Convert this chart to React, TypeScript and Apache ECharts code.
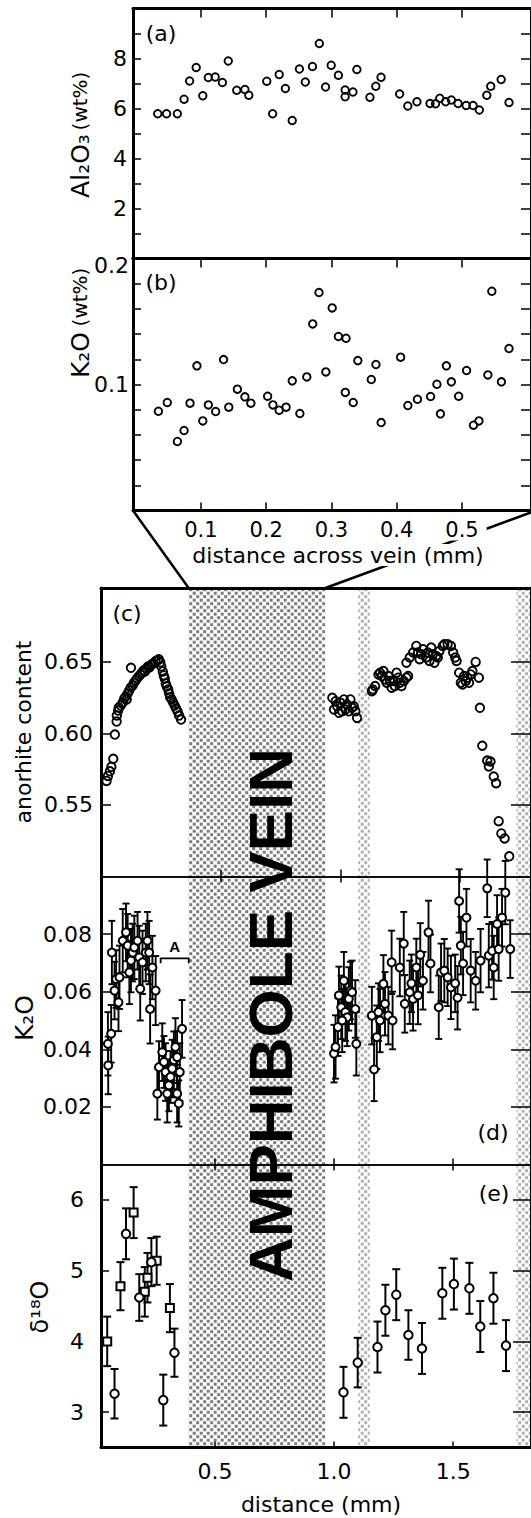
import React, { useEffect, useRef } from "react";
import * as echarts from "echarts";

const FONT = "DejaVu Sans";

// ---------- (a) Al2O3 (wt%) across vein ----------
const alX = [0.034,0.0475,0.064,0.0743,0.0828,0.0929,0.103,0.1115,0.122,0.133,0.142,0.155,0.1675,0.1735,0.201,0.210,0.220,0.2295,0.240,0.251,0.260,0.271,0.2815,0.291,0.2997,0.3107,0.321,0.321,0.333,0.339,0.359,0.368,0.376,0.4045,0.417,0.431,0.451,0.4595,0.466,0.475,0.4837,0.494,0.5064,0.517,0.5266,0.538,0.544,0.560,0.572];
const alY = [5.79,5.79,5.79,6.37,7.10,7.64,6.51,7.24,7.26,7.04,7.90,6.73,6.76,6.53,7.09,5.79,7.36,6.80,5.52,7.58,7.06,7.68,8.60,6.86,7.73,7.33,6.74,6.47,6.66,7.56,6.45,6.89,7.25,6.58,6.10,6.27,6.20,6.19,6.41,6.27,6.34,6.20,6.12,6.12,5.94,6.53,6.89,7.16,6.24];

// ---------- (b) K2O (wt%) across vein ----------
const kVeinX = [0.035,0.0486,0.0641,0.0743,0.0834,0.094,0.103,0.1115,0.1227,0.1348,0.1428,0.156,0.1675,0.1766,0.2023,0.2104,0.22,0.2306,0.240,0.2517,0.2623,0.2714,0.281,0.2915,0.3012,0.3107,0.3224,0.3213,0.3334,0.3405,0.3611,0.3682,0.3762,0.406,0.4171,0.4318,0.4519,0.4616,0.467,0.4761,0.4837,0.4949,0.507,0.5176,0.526,0.5396,0.5457,0.5604,0.572];
const kVeinY = [0.0788,0.0857,0.0548,0.0635,0.0852,0.1148,0.0711,0.0838,0.0786,0.1198,0.0820,0.0963,0.0902,0.0852,0.0907,0.0838,0.0796,0.0820,0.1029,0.0770,0.1060,0.1481,0.1730,0.1100,0.1608,0.1381,0.1367,0.0937,0.0857,0.1190,0.1040,0.1159,0.0698,0.1217,0.0833,0.0883,0.0905,0.1002,0.0767,0.1148,0.1021,0.0907,0.1111,0.0677,0.0711,0.1076,0.1740,0.1021,0.1286];

// ---------- (c) anorthite content ----------
const anX = [
  0.0187,0.0245,0.0328,0.039,0.0469,0.0535,0.061,0.0676,0.0618,0.0701,0.0784,0.0867,0.093,0.0992,0.1033,0.1075,0.1137,0.1212,0.12,0.1282,0.1344,0.1407,0.1469,0.1531,0.1614,0.1676,0.1739,0.1801,0.1863,0.1925,0.1988,0.207,0.2154,0.2237,0.232,0.2382,0.2444,0.2485,0.2548,0.2589,0.2631,0.2672,0.2714,0.2776,0.2817,0.2859,0.2921,0.2983,0.3046,0.3108,0.317,0.3232,0.3315,
  0.9664,0.9801,0.9734,0.9871,1.0008,1.0079,1.0149,1.0286,1.0423,1.0494,1.0357,1.0564,1.0631,1.0701,0.9942,1.0216,
  1.1324,1.1461,1.1602,1.1668,1.1809,1.1876,1.1946,1.2017,1.2154,1.2224,1.2361,1.2432,1.2498,1.2568,1.2664,1.2776,1.2846,1.1365,1.1739,1.2083,1.2290,
  1.2776,1.2913,1.3054,1.3191,1.3261,1.3398,1.3469,1.3606,1.3676,1.3813,1.3884,1.3950,1.4021,1.4158,1.4299,1.4365,1.4506,1.4643,1.4739,1.4822,1.4880,1.3328,1.3743,1.4091,
  1.4988,1.5058,1.5129,1.5266,1.5336,1.5473,1.5544,1.5681,1.5817,1.5195,1.5402,
  1.5859,1.5959,1.6166,1.6303,1.6232,1.6440,1.6539,1.6647,1.6759,1.6896,1.7091
];
const anY = [
  0.5668,0.5703,0.5735,0.5767,0.5823,0.5992,0.6083,0.6160,0.6125,0.6181,0.6195,0.6216,0.6245,0.6259,0.6238,0.6280,0.6301,0.6459,0.6322,0.6336,0.6357,0.6371,0.6385,0.6399,0.6413,0.6427,0.6441,0.6434,0.6455,0.6469,0.6462,0.6483,0.6490,0.6504,0.6511,0.6518,0.6497,0.6469,0.6434,0.6406,0.6385,0.6350,0.6329,0.6308,0.6280,0.6252,0.6238,0.6216,0.6195,0.6174,0.6153,0.6125,0.6097,
  0.6249,0.6226,0.6167,0.6190,0.6214,0.6155,0.6238,0.6202,0.6238,0.6179,0.6155,0.6190,0.6155,0.6109,0.6144,0.6167,
  0.6296,0.6331,0.6413,0.6425,0.6436,0.6378,0.6355,0.6401,0.6320,0.6366,0.6425,0.6390,0.6355,0.6331,0.6366,0.6390,0.6401,0.6308,0.6401,0.6366,0.6331,
  0.6495,0.6531,0.6566,0.6612,0.6566,0.6554,0.6589,0.6531,0.6566,0.6601,0.6554,0.6495,0.6542,0.6577,0.6612,0.6624,0.6624,0.6612,0.6566,0.6531,0.6507,0.6519,0.6507,0.6531,
  0.6425,0.6355,0.6343,0.6366,0.6390,0.6413,0.6436,0.6500,0.6390,0.6401,0.6355,
  0.6179,0.5914,0.5811,0.5804,0.5769,0.5699,0.5652,0.5387,0.5301,0.5266,0.5141
];

// ---------- (d) K2O with error bars ----------
const kX = [
  0.0506,0.0519,0.0643,0.0672,0.0784,0.0851,0.0950,0.0992,0.1129,0.1266,0.1336,0.1407,0.1473,0.1544,0.1614,0.1751,0.1822,0.1863,0.1959,0.2095,0.2166,0.2237,0.2278,0.2373,0.2510,
  0.2581,0.2651,0.2788,0.2859,0.2925,0.2996,0.3066,0.3133,0.3203,0.3274,0.3340,0.3411,0.3481,0.3523,0.3618,0.3411,
  0.9996,1.0062,1.0162,1.0203,1.0299,1.0411,1.0477,1.0618,1.0685,1.0755,1.0892,1.0934,1.0548,1.0340,
  1.1680,1.1585,1.1793,1.1863,1.1929,1.2071,1.2137,1.2278,1.2456,1.2415,1.2759,1.2925,
  1.2967,1.3245,1.3315,1.3523,1.3618,1.3730,1.3963,1.4046,1.3174,1.3452,
  1.4394,1.4490,1.4627,1.4768,1.4905,1.5083,1.5183,1.5249,1.5320,1.5415,1.5556,
  1.5734,1.5942,1.6149,1.6427,1.6494,1.6635,1.6701,1.6842,1.6909,1.7050,1.7187,1.7394
];
const kY = [
  0.0419,0.0344,0.0454,0.0736,0.0604,0.0644,0.0563,0.0650,0.0777,0.0806,0.0760,0.0667,0.0708,0.0736,0.0754,0.0777,0.0719,0.0610,0.0702,0.0736,0.0777,0.0736,0.0540,0.0684,0.0604,
  0.0246,0.0338,0.0390,0.0356,0.0321,0.0246,0.0275,0.0304,0.0333,0.0362,0.0408,0.0373,0.0212,0.0321,0.0471,0.0246,
  0.0385,0.0408,0.0477,0.0587,0.0546,0.0638,0.0529,0.0575,0.0604,0.0598,0.0540,0.0419,0.0511,0.0500,
  0.0330,0.0517,0.0442,0.0529,0.0500,0.0627,0.0558,0.0517,0.0500,0.0702,0.0684,0.0767,
  0.0558,0.0629,0.0575,0.0587,0.0728,0.0638,0.0806,0.0698,0.0598,0.0684,
  0.0546,0.0667,0.0673,0.0650,0.0615,0.0629,0.0579,0.0915,0.0760,0.0698,0.0857,
  0.0673,0.0638,0.0708,0.0959,0.0725,0.0742,0.0684,0.0835,0.0748,0.0857,0.0944,0.0748
];
const kErr = [
  0.011,0.010,0.010,0.011,0.010,0.010,0.010,0.011,0.011,0.010,0.011,0.011,0.011,0.010,0.011,0.010,0.011,0.011,0.011,0.010,0.010,0.011,0.012,0.011,0.012,
  0.009,0.009,0.010,0.009,0.010,0.010,0.009,0.009,0.010,0.010,0.010,0.009,0.008,0.010,0.010,0.010,
  0.010,0.011,0.010,0.010,0.011,0.010,0.010,0.011,0.010,0.011,0.010,0.011,0.010,0.011,
  0.011,0.010,0.011,0.010,0.011,0.010,0.011,0.010,0.010,0.011,0.010,0.011,
  0.010,0.010,0.011,0.010,0.011,0.010,0.011,0.010,0.011,0.010,
  0.011,0.010,0.011,0.010,0.011,0.010,0.011,0.011,0.010,0.011,0.010,
  0.011,0.010,0.011,0.010,0.011,0.010,0.011,0.010,0.011,0.010,0.011,0.010
];

// ---------- (e) delta 18O ----------
const oCircX = [0.0784,0.1266,0.1822,0.2330,0.2830,0.3299,1.0394,1.0992,1.1822,1.2154,1.2610,1.3120,1.3689,1.4544,1.5029,1.5680,1.6137,1.6689,1.7216];
const oCircY = [3.26,5.52,4.62,5.12,3.17,3.84,3.28,3.70,3.92,4.44,4.66,4.09,3.90,4.68,4.81,4.75,4.21,4.61,3.94];
const oCircErr = [0.35,0.36,0.33,0.34,0.36,0.34,0.36,0.35,0.36,0.36,0.36,0.35,0.36,0.36,0.36,0.36,0.36,0.36,0.36];
const oSqX = [0.0477,0.1033,0.1585,0.2054,0.2166,0.2552,0.3108];
const oSqY = [4.00,4.78,5.82,4.70,4.90,5.14,4.47];
const oSqErr = [0.35,0.34,0.36,0.35,0.35,0.34,0.34];

// ---------- axes / annotations ----------
const TOP_X = [-0.0039, 0.6057];
const LOW_X = [0.0216, 1.8266];
const C_X = [-0.0046, 1.8004];
const topTickValues = [0.1, 0.2, 0.3, 0.4, 0.5];
const lowTickValues = [0.5, 1.0, 1.5];
const alTickValues = [1, 2, 3, 4, 5, 6, 7, 8, 9];
const alLabelValues = [2, 4, 6, 8];
const kVeinTickValues = [0.02, 0.04, 0.06, 0.08, 0.1, 0.12, 0.14, 0.16, 0.18];
const kVeinLabelValues = [0.1, 0.2];
const anTickValues = [0.55, 0.6, 0.65];
const kTickValues = [0.02, 0.04, 0.06, 0.08];
const oTickValues = [3, 4, 5, 6];
const veinBand = [0.3896, 0.9635];
const narrowBand = [1.1017, 1.15];
const edgeBand = [1.7656, 1.8266];
const bracketA = [0.272, 0.39, 0.0716, 0.0699, 0.0757]; // x0, x1, y, drop, label y

const GA = { left: 133, top: 8.5, width: 403, height: 250 };
const GB = { left: 133, top: 258.5, width: 403, height: 252 };
const GC = { left: 101, top: 588, width: 435, height: 288.5 };
const GD = { left: 101, top: 876.5, width: 435, height: 288 };
const GE = { left: 101, top: 1164.5, width: 435, height: 283 };

const ax = (gridIndex: number, position: string, min: number, max: number, lineW: number, tick: any = null, label: any = null, extra: any = {}) => ({
  type: "value",
  gridIndex,
  position,
  min,
  max,
  axisLine: { show: true, onZero: false, lineStyle: { color: "#000", width: lineW } },
  splitLine: { show: false },
  axisTick: tick
    ? { show: true, inside: true, length: tick.len, customValues: tick.values, lineStyle: { color: "#000", width: tick.w ?? 1.5 } }
    : { show: false },
  axisLabel: label
    ? { show: true, customValues: label.values, formatter: label.fmt, margin: label.margin, fontSize: label.size ?? 22, fontFamily: FONT, color: "#000", ...(label.extra || {}) }
    : { show: false },
  ...extra,
});

const errRender = (capW: number, lw: number) => (params: any, api: any) => {
  const x = api.value(0), y = api.value(1), e = api.value(2);
  const t = api.coord([x, y + e]);
  const b = api.coord([x, y - e]);
  const st = { stroke: "#000", lineWidth: lw };
  return {
    type: "group",
    children: [
      { type: "line", shape: { x1: t[0], y1: t[1], x2: b[0], y2: b[1] }, style: st },
      { type: "line", shape: { x1: t[0] - capW / 2, y1: t[1], x2: t[0] + capW / 2, y2: t[1] }, style: st },
      { type: "line", shape: { x1: b[0] - capW / 2, y1: b[1], x2: b[0] + capW / 2, y2: b[1] }, style: st },
    ],
  };
};

const tileURL = (c: string) =>
  "data:image/svg+xml;charset=utf-8," +
  encodeURIComponent(
    `<svg xmlns="http://www.w3.org/2000/svg" width="7" height="7" viewBox="0 0 7 7"><rect x="0.2" y="0.2" width="3" height="3" fill="${c}"/><rect x="3.7" y="3.7" width="3" height="3" fill="${c}"/></svg>`
  );
const pattern = (c: string) => ({ image: tileURL(c), repeat: "repeat", imageWidth: 7, imageHeight: 7 });

function buildOption() {
  const hollow = { color: "rgba(0,0,0,0)", borderColor: "#000", borderWidth: 1.9, opacity: 1 };
  const white = { color: "#fff", borderColor: "#000", borderWidth: 2, opacity: 1 };
  return {
    animation: false,
    backgroundColor: "#fff",
    textStyle: { fontFamily: FONT },
    grid: [GA, GB, GC, GD, GE].map((g) => ({ ...g, containLabel: false })),
    xAxis: [
      ax(0, "top", TOP_X[0], TOP_X[1], 3, { len: 9, values: topTickValues }),
      ax(0, "bottom", TOP_X[0], TOP_X[1], 3),
      ax(1, "top", TOP_X[0], TOP_X[1], 3, { len: 9, values: topTickValues }),
      ax(1, "bottom", TOP_X[0], TOP_X[1], 3, { len: 8, values: topTickValues }, {
        values: topTickValues, fmt: (v: number) => v.toFixed(1), margin: 9, size: 21,
        extra: { backgroundColor: "#fff", padding: [0, 8, 0, 8] },
      }, { z: 10 }),
      ax(2, "bottom", C_X[0], C_X[1], 1.5, { len: 7, values: lowTickValues }),
      ax(2, "top", LOW_X[0], LOW_X[1], 3),
      ax(3, "top", C_X[0], C_X[1], 1.5, { len: 6, values: lowTickValues }),
      ax(3, "bottom", LOW_X[0], LOW_X[1], 1.5, { len: 6, values: lowTickValues }),
      ax(4, "top", LOW_X[0], LOW_X[1], 1.5, { len: 6, values: lowTickValues }),
      ax(4, "bottom", LOW_X[0], LOW_X[1], 3, { len: 6, values: lowTickValues }, {
        values: lowTickValues, fmt: (v: number) => v.toFixed(1), margin: 13, size: 22,
      }),
    ],
    yAxis: [
      ax(0, "left", 0, 10, 3, { len: 8, values: alTickValues }, { values: alLabelValues, fmt: (v: number) => String(v), margin: 6, size: 22 }),
      ax(0, "right", 0, 10, 3, { len: 10, values: alTickValues }),
      ax(1, "left", 0, 0.2, 3, { len: 8, values: kVeinTickValues }, {
        values: kVeinLabelValues,
        fmt: (v: number) => (v > 0.15 ? "{lo|0.2}" : v.toFixed(1)),
        margin: 4, size: 22,
        extra: { rich: { lo: { fontSize: 22, fontFamily: FONT, color: "#000", padding: [14, 0, 0, 0] } } },
      }),
      ax(1, "right", 0, 0.2, 3, { len: 10, values: kVeinTickValues }),
      ax(2, "left", 0.5, 0.7017, 3, { len: 10, values: anTickValues }, { values: anTickValues, fmt: (v: number) => v.toFixed(2), margin: 8, size: 22 }),
      ax(2, "right", 0.5, 0.7017, 3, { len: 20, values: anTickValues }),
      ax(3, "left", 0, 0.1, 3, { len: 10, values: kTickValues }, { values: kTickValues, fmt: (v: number) => v.toFixed(2), margin: 9, size: 22 }),
      ax(3, "right", 0, 0.1, 3, { len: 20, values: kTickValues }),
      ax(4, "left", 2.5, 6.5, 3, { len: 8, values: oTickValues }, { values: oTickValues, fmt: (v: number) => String(v), margin: 17, size: 22 }),
      ax(4, "right", 2.5, 6.5, 3, { len: 18, values: oTickValues }),
    ],
    series: [
      { type: "scatter", xAxisIndex: 0, yAxisIndex: 0, silent: true, z: 5, symbol: "circle", symbolSize: 7.5, itemStyle: hollow, data: alX.map((x, i) => [x, alY[i]]) },
      { type: "scatter", xAxisIndex: 3, yAxisIndex: 2, silent: true, z: 5, symbol: "circle", symbolSize: 7.5, itemStyle: hollow, data: kVeinX.map((x, i) => [x, kVeinY[i]]) },
      { type: "scatter", xAxisIndex: 4, yAxisIndex: 4, silent: true, z: 5, symbol: "circle", symbolSize: 8.5, itemStyle: hollow, data: anX.map((x, i) => [x, anY[i]]) },
      { type: "custom", xAxisIndex: 7, yAxisIndex: 6, silent: true, z: 4, renderItem: errRender(7, 1.9), encode: { x: 0, y: 1 }, data: kX.map((x, i) => [x, kY[i], kErr[i]]) },
      { type: "scatter", xAxisIndex: 7, yAxisIndex: 6, silent: true, z: 5, symbol: "circle", symbolSize: 8, itemStyle: white, data: kX.map((x, i) => [x, kY[i]]) },
      { type: "custom", xAxisIndex: 9, yAxisIndex: 8, silent: true, z: 4, renderItem: errRender(8, 2), encode: { x: 0, y: 1 }, data: oCircX.map((x, i) => [x, oCircY[i], oCircErr[i]]).concat(oSqX.map((x, i) => [x, oSqY[i], oSqErr[i]])) },
      { type: "scatter", xAxisIndex: 9, yAxisIndex: 8, silent: true, z: 5, symbol: "rect", symbolSize: 8, itemStyle: white, data: oSqX.map((x, i) => [x, oSqY[i]]) },
      { type: "scatter", xAxisIndex: 9, yAxisIndex: 8, silent: true, z: 6, symbol: "circle", symbolSize: 8.5, itemStyle: white, data: oCircX.map((x, i) => [x, oCircY[i]]) },
    ],
  };
}

const txt = (x: number, y: number, text: string, size: number, extra: any = {}, rot = 0) => ({
  type: "text",
  x,
  y,
  rotation: rot,
  z: 20,
  silent: true,
  style: {
    text,
    fill: "#000",
    font: `${size}px "${FONT}"`,
    textAlign: "center",
    textVerticalAlign: "middle",
    ...extra,
  },
});

function buildGraphic(chart: any) {
  const px = (v: number) => chart.convertToPixel({ xAxisIndex: 9 }, v);
  const bandTop = GC.top;
  const bandBottom = GE.top + GE.height;
  const band = (b: number[], color: string) => ({
    type: "rect",
    z: -5,
    silent: true,
    shape: { x: px(b[0]), y: bandTop, width: px(b[1]) - px(b[0]), height: bandBottom - bandTop },
    style: { fill: pattern(color) },
  });
  const bBottom = GB.top + GB.height;
  const lineSt = { stroke: "#000", lineWidth: 2.5 };
  const cv = (p: number[]) => chart.convertToPixel({ xAxisIndex: 7, yAxisIndex: 6 }, p);
  const p0 = cv([bracketA[0], bracketA[3]]);
  const p1 = cv([bracketA[0], bracketA[2]]);
  const p2 = cv([bracketA[1], bracketA[2]]);
  const p3 = cv([bracketA[1], bracketA[3]]);
  const pl = cv([(bracketA[0] + bracketA[1]) / 2, bracketA[4]]);
  return {
    elements: [
      band(veinBand, "#7c7c7c"),
      band(narrowBand, "#b0b0b0"),
      band(edgeBand, "#b0b0b0"),
      { type: "line", z: -1, silent: true, shape: { x1: GB.left, y1: bBottom, x2: px(veinBand[0]), y2: GC.top }, style: lineSt },
      { type: "line", z: -1, silent: true, shape: { x1: GB.left + GB.width, y1: bBottom, x2: px(veinBand[1]), y2: GC.top }, style: lineSt },
      txt(270, 1015, "AMPHIBOLE VEIN", 62, { font: 'bold 62px "Liberation Sans", Arial, sans-serif' }, Math.PI / 2),
      { type: "polyline", z: 20, silent: true, shape: { points: [p0, p1, p2, p3] }, style: { stroke: "#000", lineWidth: 1.8, fill: null } },
      txt(pl[0], pl[1], "A", 15, { font: 'bold 15px "Liberation Sans", Arial, sans-serif' }),
      txt(161, 33, "(a)", 22),
      txt(161, 282, "(b)", 22),
      txt(127, 613, "(c)", 22),
      txt(493, 1132, "(d)", 22),
      txt(494, 1193, "(e)", 22),
      txt(80, 166, "Al₂O₃", 25, {}, Math.PI / 2),
      txt(80, 101, "(wt%)", 20, {}, Math.PI / 2),
      txt(80, 355, "K₂O", 25, {}, Math.PI / 2),
      txt(80, 297, "(wt%)", 20, {}, Math.PI / 2),
      txt(23, 732, "anorhite content", 22, {}, Math.PI / 2),
      txt(24, 1018, "K₂O", 25, {}, Math.PI / 2),
      txt(40, 1307, "δ¹⁸O", 24, {}, Math.PI / 2),
      txt(338, 555, "distance across vein (mm)", 22, { backgroundColor: "#fff", padding: [0, 4, 0, 4] }),
      txt(321, 1504, "distance (mm)", 22),
    ],
  };
}

export default function App() {
  const ref = useRef<HTMLDivElement>(null);
  useEffect(() => {
    const el = ref.current;
    if (!el) return;
    const chart = echarts.init(el, null, { renderer: "svg" });
    chart.setOption(buildOption() as any);
    chart.setOption({ graphic: buildGraphic(chart) } as any);
    return () => chart.dispose();
  }, []);
  return (
    <div
      ref={ref}
      style={{ position: "absolute", left: 0, top: 0, width: 531, height: 1518, background: "#fff" }}
    />
  );
}
